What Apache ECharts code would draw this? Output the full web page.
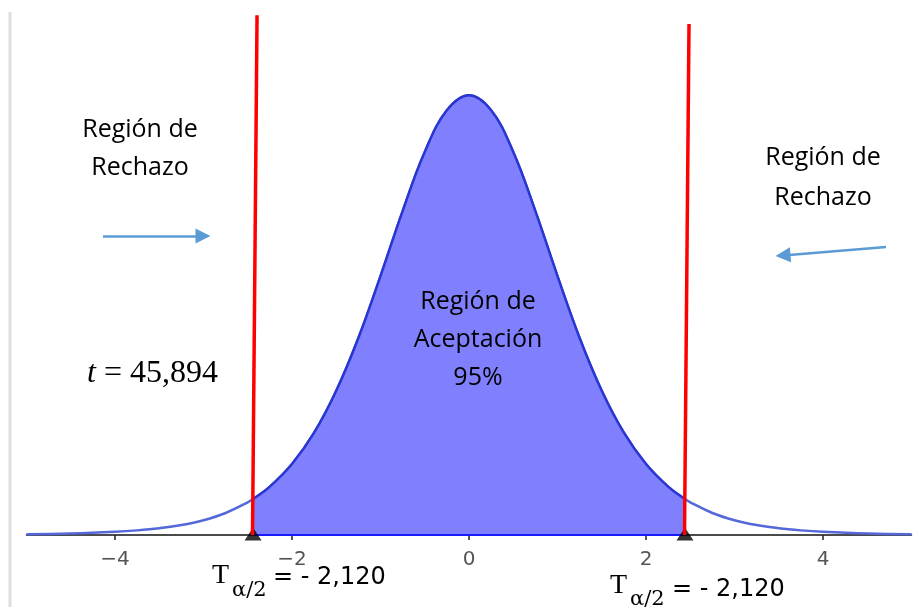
<!DOCTYPE html>
<html>
<head>
<meta charset="utf-8">
<script src="https://cdn.jsdelivr.net/npm/echarts@6/dist/echarts.min.js"></script>
<style>html,body{margin:0;padding:0;background:#fff;}#c{width:923px;height:607px;}</style>
</head>
<body>
<div id="c"></div>
<script>
// density curve
var xs = [-5, -4.5, -4, -3.75, -3.5, -3.25, -3, -2.75, -2.5, -2.44, -2.25, -2, -1.75, -1.5, -1.25, -1, -0.75, -0.5, -0.25, 0,
          0.25, 0.5, 0.75, 1, 1.25, 1.5, 1.75, 2, 2.25, 2.44, 2.5, 2.75, 3, 3.25, 3.5, 3.75, 4, 4.5, 5];
var ys = [0.0007, 0.0013, 0.0028, 0.0041, 0.0060, 0.0088, 0.0131, 0.0195, 0.0290, 0.0319, 0.0429, 0.0629, 0.0907, 0.1279, 0.1747, 0.2296, 0.2872, 0.3396, 0.3766, 0.3900,
          0.3766, 0.3396, 0.2872, 0.2296, 0.1747, 0.1279, 0.0907, 0.0629, 0.0429, 0.0319, 0.0290, 0.0195, 0.0131, 0.0088, 0.0060, 0.0041, 0.0028, 0.0013, 0.0007];
var critLow = -2.44;
var critHigh = 2.44;
var tickValues = [-4, -2, 0, 2, 4];
var redLeft = [[-2.395, 0.461], [-2.446, 0]];
var redRight = [[2.486, 0.4531], [2.435, 0]];
var arrowLeft = [[-4.136, 0.2651], [-3.006, 0.2651]];
var arrowRight = [[4.712, 0.2554], [3.548, 0.2479]];

var curve = xs.map(function (x, i) { return [x, ys[i]]; });
var shaded = curve.filter(function (p) { return p[0] >= critLow && p[0] <= critHigh; });

var chart = echarts.init(document.getElementById('c'), null, {renderer: 'canvas'});
chart.setOption({
  animation: false,
  grid: {left: 26.5, right: 11.5, top: 5, bottom: 72},
  xAxis: {
    type: 'value', min: -5, max: 5,
    splitLine: {show: false},
    axisLine: {show: true, onZero: false, lineStyle: {color: '#111', width: 1.5}},
    axisTick: {show: true, customValues: tickValues, length: 5, lineStyle: {color: '#222', width: 1.5}},
    axisLabel: {
      customValues: tickValues, margin: 15, color: '#555', fontSize: 20, fontFamily: 'DejaVu Sans',
      formatter: function (v) { return String(v).replace('-', '\u2212'); }
    }
  },
  yAxis: {type: 'value', min: 0, max: 0.47, show: false, splitLine: {show: false}},
  series: [
    {
      type: 'line', data: curve, smooth: 0.4, showSymbol: false, z: 2,
      lineStyle: {color: '#5468da', width: 2.5},
      markLine: {
        silent: true, symbol: ['none', 'triangle'], symbolSize: [15, 15],
        label: {show: false},
        lineStyle: {color: '#5b9bd5', width: 2.5, type: 'solid'},
        data: [
          [{coord: arrowLeft[0]}, {coord: arrowLeft[1]}],
          [{coord: arrowRight[0]}, {coord: arrowRight[1]}]
        ]
      }
    },
    {
      type: 'line', data: shaded, smooth: 0.4, showSymbol: false, z: 3,
      lineStyle: {color: '#2a36d0', width: 2.5},
      areaStyle: {color: '#8080ff', opacity: 1}
    },
    {
      type: 'line', data: [[critLow, 0], [critHigh, 0]], showSymbol: false, z: 4,
      lineStyle: {color: '#1a1aff', width: 2}
    },
    {
      type: 'scatter', data: [[critLow, 0], [critHigh, 0]], symbol: 'triangle', symbolSize: [17, 13],
      symbolOffset: [0, -1], itemStyle: {color: '#000'}, z: 5, clip: false
    },
    {
      type: 'line', data: redLeft, showSymbol: false, z: 6, clip: false,
      lineStyle: {color: '#ff0000', width: 3.5}
    },
    {
      type: 'line', data: redRight, showSymbol: false, z: 6, clip: false,
      lineStyle: {color: '#ff0000', width: 3.5}
    }
  ],
  graphic: [
    {type: 'rect', left: 8.5, top: 12, shape: {x: 0, y: 0, width: 3, height: 600}, style: {fill: '#dedede'}, z: 0},
    {type: 'text', x: 140, y: 149, style: {text: 'Región de\nRechazo', font: '25px "Open Sans"', fill: '#000', align: 'center', verticalAlign: 'middle', lineHeight: 38}},
    {type: 'text', x: 823, y: 178, style: {text: 'Región de\nRechazo', font: '25px "Open Sans"', fill: '#000', align: 'center', verticalAlign: 'middle', lineHeight: 40}},
    {type: 'text', x: 478, y: 340, z: 10, style: {text: 'Región de\nAceptación\n95%', font: '25px "Open Sans"', fill: '#000', align: 'center', verticalAlign: 'middle', lineHeight: 38}},
    {type: 'text', x: 87, y: 374, style: {
      text: '{i|t} = 45,894', font: '32px "Liberation Serif"', fill: '#000', align: 'left', verticalAlign: 'middle',
      rich: {i: {fontStyle: 'italic', fontFamily: 'Liberation Serif', fontSize: 32}}
    }},
    {type: 'text', x: 212, y: 576, style: {text: 'T', font: '28px "Liberation Serif"', fill: '#000', align: 'left', verticalAlign: 'middle'}},
    {type: 'text', x: 232, y: 591, style: {text: 'α/2', font: '21px "DejaVu Serif"', fill: '#000', align: 'left', verticalAlign: 'middle'}},
    {type: 'text', x: 273, y: 578, style: {text: '= - 2,120', font: '24px "DejaVu Sans"', fill: '#000', align: 'left', verticalAlign: 'middle'}},
    {type: 'text', x: 610, y: 586, style: {text: 'T', font: '28px "Liberation Serif"', fill: '#000', align: 'left', verticalAlign: 'middle'}},
    {type: 'text', x: 630, y: 600, style: {text: 'α/2', font: '21px "DejaVu Serif"', fill: '#000', align: 'left', verticalAlign: 'middle'}},
    {type: 'text', x: 672, y: 590, style: {text: '= - 2,120', font: '24px "DejaVu Sans"', fill: '#000', align: 'left', verticalAlign: 'middle'}}
  ]
});
</script>
</body>
</html>
